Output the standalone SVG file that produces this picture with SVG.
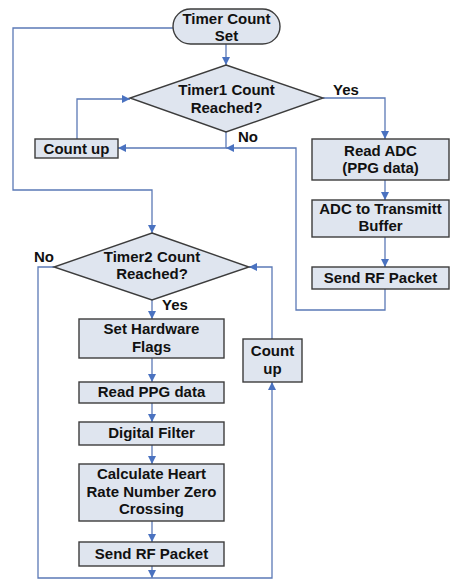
<svg xmlns="http://www.w3.org/2000/svg" width="451" height="580" viewBox="0 0 451 580">
<defs>
<style>
.box{fill:#dfe5ef;stroke:#3c3c3c;stroke-width:1.4}
.t{font-family:"Liberation Sans",Arial,sans-serif;font-weight:bold;font-size:15px;fill:#111;text-anchor:middle}
.lbl{font-family:"Liberation Sans",Arial,sans-serif;font-weight:bold;font-size:15px;fill:#111}
.c{fill:none;stroke:#5b79b6;stroke-width:1.3}
</style>
<marker id="ah" markerUnits="userSpaceOnUse" markerWidth="9" markerHeight="8" refX="8" refY="4" orient="auto">
<path d="M0,0 L8,4 L0,8 Z" fill="#4a72c0"/>
</marker>
</defs>
<rect width="451" height="580" fill="#fff"/>
<g id="connectors">
<path class="c" d="M226,44 V65" marker-end="url(#ah)"/>
<path class="c" d="M323,98 H385 V139" marker-end="url(#ah)"/>
<path class="c" d="M385,180 V200" marker-end="url(#ah)"/>
<path class="c" d="M385,237 V267" marker-end="url(#ah)"/>
<path class="c" d="M385,289 V310 H296 V148 H226" marker-end="url(#ah)"/>
<path class="c" d="M226,132 V148 H118" marker-end="url(#ah)"/>
<path class="c" d="M77,139 V99 H130" marker-end="url(#ah)"/>
<path class="c" d="M173,28 H13 V190 H152 V233" marker-end="url(#ah)"/>
<path class="c" d="M152,300 V319" marker-end="url(#ah)"/>
<path class="c" d="M152,358 V382" marker-end="url(#ah)"/>
<path class="c" d="M152,403 V422" marker-end="url(#ah)"/>
<path class="c" d="M152,445 V464" marker-end="url(#ah)"/>
<path class="c" d="M152,521 V542" marker-end="url(#ah)"/>
<path class="c" d="M152,566 V578" marker-end="url(#ah)"/>
<path class="c" d="M54,267 H38 V578 H272 V382" marker-end="url(#ah)"/>
<path class="c" d="M272,339 V267 H249" marker-end="url(#ah)"/>
<text class="lbl" x="333" y="95">Yes</text>
<text class="lbl" x="238" y="142">No</text>
<text class="lbl" x="34" y="262">No</text>
<text class="lbl" x="162" y="310">Yes</text>
</g>
<g id="start">
<rect class="box" x="173" y="9" width="107" height="35" rx="17.5" ry="17.5"/>
<text class="t" x="226.5" y="24">Timer Count</text>
<text class="t" x="226.5" y="41">Set</text>
</g>
<g id="timer1">
<polygon class="box" points="226,65 323,98 226,132 130,98"/>
<text class="t" x="226.5" y="95">Timer1 Count</text>
<text class="t" x="226.5" y="113">Reached?</text>
</g>
<g id="countup1">
<rect class="box" x="35" y="139" width="83" height="19"/>
<text class="t" x="76.5" y="153.5">Count up</text>
</g>
<g id="readadc">
<rect class="box" x="312" y="139" width="137" height="41"/>
<text class="t" x="380.5" y="156">Read ADC</text>
<text class="t" x="380.5" y="173">(PPG data)</text>
</g>
<g id="adctx">
<rect class="box" x="312" y="200" width="137" height="37"/>
<text class="t" x="380.5" y="214">ADC to Transmitt</text>
<text class="t" x="380.5" y="231">Buffer</text>
</g>
<g id="sendrf1">
<rect class="box" x="312" y="267" width="137" height="22"/>
<text class="t" x="380.5" y="283">Send RF Packet</text>
</g>
<g id="timer2">
<polygon class="box" points="152,233 249,267 152,300 54,267"/>
<text class="t" x="152" y="262">Timer2 Count</text>
<text class="t" x="152" y="279">Reached?</text>
</g>
<g id="flags">
<rect class="box" x="79" y="319" width="145" height="39"/>
<text class="t" x="151.5" y="334">Set Hardware</text>
<text class="t" x="151.5" y="352">Flags</text>
</g>
<g id="readppg">
<rect class="box" x="79" y="382" width="145" height="21"/>
<text class="t" x="151.5" y="397">Read PPG data</text>
</g>
<g id="filter">
<rect class="box" x="79" y="422" width="145" height="23"/>
<text class="t" x="151.5" y="438">Digital Filter</text>
</g>
<g id="calc">
<rect class="box" x="79" y="464" width="145" height="57"/>
<text class="t" x="151.5" y="479">Calculate Heart</text>
<text class="t" x="151.5" y="497">Rate Number Zero</text>
<text class="t" x="151.5" y="514">Crossing</text>
</g>
<g id="sendrf2">
<rect class="box" x="79" y="542" width="145" height="24"/>
<text class="t" x="151.5" y="559">Send RF Packet</text>
</g>
<g id="countup2">
<rect class="box" x="243" y="339" width="59" height="43"/>
<text class="t" x="272.5" y="356">Count</text>
<text class="t" x="272.5" y="374">up</text>
</g>
</svg>
